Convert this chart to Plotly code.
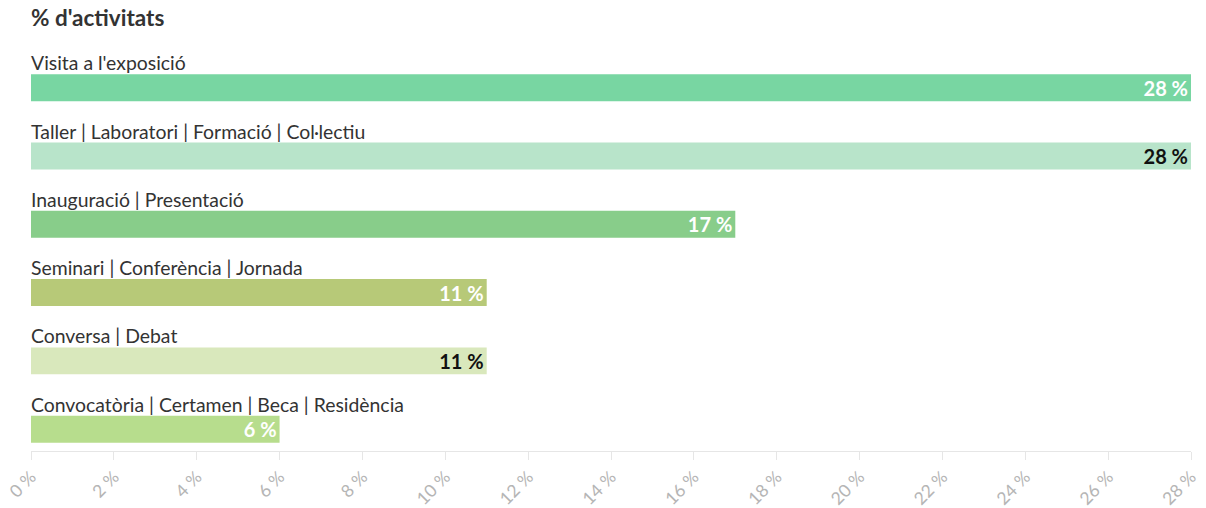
import plotly.graph_objects as go

# data
categories = [
    "Visita a l'exposició",
    "Taller | Laboratori | Formació | Col·lectiu",
    "Inauguració | Presentació",
    "Seminari | Conferència | Jornada",
    "Conversa | Debat",
    "Convocatòria | Certamen | Beca | Residència",
]
values = [28, 28, 17, 11, 11, 6]
bar_colors = ["#78d6a2", "#b8e4ca", "#88cd8a", "#b7c978", "#d9e8bc", "#b7dd8d"]
label_colors = ["#ffffff", "#111111", "#ffffff", "#ffffff", "#111111", "#ffffff"]

FONT = "Lato, 'Source Sans Pro', sans-serif"
W, H = 1206, 508

fig = go.Figure(go.Bar(
    x=values, y=categories, orientation="h",
    marker=dict(color=bar_colors, line=dict(width=0)),
    text=[f"{v} %" for v in values],
    textposition="inside", insidetextanchor="end",
    textfont=dict(family=FONT, size=20, color=label_colors, weight="bold"),
    constraintext="none",
    hoverinfo="skip",
))

# category labels above each bar
for cat in categories:
    fig.add_annotation(x=0, y=cat, xref="x", yref="y", text=cat,
                       showarrow=False, xanchor="left", yanchor="middle",
                       xshift=-2, yshift=25,
                       font=dict(family=FONT, size=19.4, color="#333333"))

fig.update_layout(
    width=W, height=H,
    paper_bgcolor="white", plot_bgcolor="white",
    margin=dict(l=31, r=15, t=40, b=57, autoexpand=False),
    bargap=0.605,
    showlegend=False,
    title=dict(text="<b>% d'activitats</b>", x=31 / W, xanchor="left",
               y=1 - 18 / H, yanchor="middle",
               font=dict(family=FONT, size=22.5, color="#333333")),
)
fig.update_xaxes(
    range=[0, 28], dtick=2, ticksuffix=" %", tickangle=-45,
    showgrid=False, zeroline=False, automargin=False,
    showline=True, linecolor="#e6e6e6", linewidth=1,
    ticks="outside", ticklen=8, tickcolor="#e6e6e6",
    ticklabeloverflow="allow",
    tickfont=dict(family=FONT, size=17.5, color="#b5b5b5"),
)
fig.update_yaxes(
    autorange=False, range=[5.32, -0.7], showticklabels=False,
    showgrid=False, zeroline=False, showline=False, automargin=False,
)

# drop the default 8px page margin so the figure fills the window
fig.write_html("out.html", config={"displayModeBar": False},
               post_script="document.body.style.margin = '0';")
